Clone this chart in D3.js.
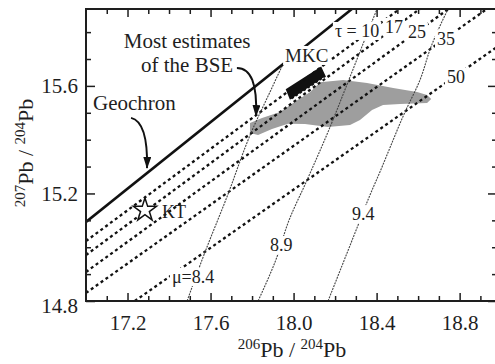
<!DOCTYPE html>
<html>
<head>
<meta charset="utf-8">
<script src="https://cdn.jsdelivr.net/npm/d3@7"></script>
<style>
    body { margin: 0; background: #fff; }
    svg { display: block; }
    svg text { font-family: "Liberation Serif", "DejaVu Serif", serif; }
</style>
</head>
<body>
<div id="grafica"></div>
<script>
// Valores (206Pb/204Pb, 207Pb/204Pb)
const ticksX = [17.2, 17.6, 18.0, 18.4, 18.8];
const ticksY = [14.8, 15.2, 15.6];
const ticksMenoresX = [17.1, 17.3, 17.4, 17.5, 17.7, 17.8, 17.9, 18.1, 18.2, 18.3, 18.5, 18.6, 18.7, 18.9];
const ticksMenoresY = [14.9, 15.0, 15.1, 15.3, 15.4, 15.5, 15.7, 15.8];

const geocrona = [[17.0, 15.094], [18.281, 15.886]];

const etiquetasTau = ["τ = 10", "17", "25", "35", "50"];
const lineasTau = [
    [[17.0, 15.023], [18.511, 15.886]],
    [[17.0, 14.971], [18.608, 15.886]],
    [[17.0, 14.908], [18.746, 15.886]],
    [[17.0, 14.830], [18.931, 15.886]],
    [[17.235, 14.800], [18.98, 15.745]]
];

const etiquetasMu = ["μ=8.4", "8.9", "9.4"];
const lineasMu = [
    [[17.487, 14.800], [17.568, 14.971], [17.679, 15.187], [17.795, 15.425], [17.891, 15.585], [17.949, 15.681]],
    [[17.829, 14.800], [17.920, 14.964], [17.973, 15.090], [18.065, 15.250], [18.166, 15.429], [18.262, 15.614], [18.329, 15.745], [18.402, 15.886]],
    [[18.166, 14.800], [18.305, 15.071], [18.368, 15.194], [18.416, 15.280], [18.537, 15.503], [18.609, 15.622], [18.662, 15.745], [18.744, 15.886]]
];

// Campo gris: la mayoria de estimaciones del BSE
const campoBSE = [
    [17.790, 15.462], [17.848, 15.481], [17.935, 15.503], [18.012, 15.544], [18.080, 15.577],
    [18.128, 15.614], [18.239, 15.622], [18.354, 15.611], [18.480, 15.592], [18.595, 15.577],
    [18.643, 15.566], [18.663, 15.551], [18.643, 15.536], [18.513, 15.533], [18.431, 15.529],
    [18.378, 15.510], [18.320, 15.473], [18.272, 15.455], [18.166, 15.447], [18.055, 15.458],
    [17.973, 15.459], [17.896, 15.440], [17.829, 15.417], [17.790, 15.425]
];
const campoMKC = [[17.962, 15.588], [18.133, 15.672], [18.156, 15.634], [17.984, 15.546]];
const puntoKT = [17.284, 15.138];

// Anclas de las anotaciones (en unidades de datos)
const anclasTau = [[18.199, 15.782], [18.440, 15.797], [18.551, 15.778], [18.691, 15.752], [18.739, 15.611]];
const anclasMu = [[17.414, 14.867], [17.886, 14.986], [18.281, 15.101]];
const flechaGeocrona = [[17.217, 15.481], [17.299, 15.466], [17.294, 15.295]];
const flechaBSE = [[17.727, 15.667], [17.829, 15.667], [17.819, 15.488]];

const ancho = 495, alto = 364;
const izq = 86, der = 497, arriba = 9, abajo = 301;
const tinta = "#1e1e1e";

const sx = d3.scaleLinear().domain([17.0, 18.98]).range([izq, der]);
const sy = d3.scaleLinear().domain([14.8, 15.886]).range([abajo, arriba]);
const linea = d3.line().x(d => sx(d[0])).y(d => sy(d[1]));

const $svg = d3.select("#grafica")
    .append("svg")
    .attr("width", ancho)
    .attr("height", alto)
    .attr("fill", tinta);

const defs = $svg.append("defs");
defs.append("clipPath").attr("id", "recorte")
    .append("rect")
    .attr("x", izq).attr("y", arriba)
    .attr("width", der - izq).attr("height", abajo - arriba);
defs.append("marker")
    .attr("id", "punta")
    .attr("viewBox", "0 0 12 8")
    .attr("refX", 11).attr("refY", 4)
    .attr("markerWidth", 12).attr("markerHeight", 8)
    .attr("markerUnits", "userSpaceOnUse")
    .attr("orient", "auto")
    .append("path")
    .attr("d", "M0,0L12,4L0,8z")
    .attr("fill", "#111");

const zona = $svg.append("g").attr("clip-path", "url(#recorte)");

zona.append("path")
    .attr("d", linea(campoBSE) + "Z")
    .attr("fill", "#9e9e9e");

zona.append("path")
    .attr("d", linea(campoMKC) + "Z")
    .attr("fill", "#111");
// borde dentado del MKC
zona.append("path")
    .attr("d", linea([campoMKC[3], campoMKC[2]]))
    .attr("stroke", "#fff")
    .attr("stroke-width", 1.6)
    .attr("stroke-dasharray", "2 2.8")
    .attr("fill", "none");

zona.selectAll(".tau")
    .data(lineasTau)
    .join("path")
    .attr("class", "tau")
    .attr("d", linea)
    .attr("fill", "none")
    .attr("stroke", "#111")
    .attr("stroke-width", 2.3)
    .attr("stroke-dasharray", "3 3");

zona.selectAll(".mu")
    .data(lineasMu)
    .join("path")
    .attr("class", "mu")
    .attr("d", d3.line().curve(d3.curveMonotoneY).x(d => sx(d[0])).y(d => sy(d[1])))
    .attr("fill", "none")
    .attr("stroke", "#444")
    .attr("stroke-width", 1.1)
    .attr("stroke-dasharray", "2 1");

zona.append("path")
    .attr("d", linea(geocrona))
    .attr("fill", "none")
    .attr("stroke", "#111")
    .attr("stroke-width", 2.6);

zona.append("path")
    .attr("transform", `translate(${sx(puntoKT[0])},${sy(puntoKT[1])})`)
    .attr("d", d3.symbol(d3.symbolStar, 165)())
    .attr("fill", "#fff")
    .attr("stroke", "#111")
    .attr("stroke-width", 1.5);

const curva = p => `M${sx(p[0][0])},${sy(p[0][1])}Q${sx(p[1][0])},${sy(p[1][1])} ${sx(p[2][0])},${sy(p[2][1])}`;
[flechaGeocrona, flechaBSE].forEach(p => {
    $svg.append("path")
        .attr("d", curva(p))
        .attr("fill", "none")
        .attr("stroke", "#111")
        .attr("stroke-width", 2)
        .attr("marker-end", "url(#punta)");
});

const capaEtiquetas = $svg.append("g");
const etiqueta = (texto, punto, tam, anchor = "start", fondo = false) => {
    const t = capaEtiquetas.append("text")
        .attr("x", sx(punto[0]))
        .attr("y", sy(punto[1]))
        .attr("text-anchor", anchor)
        .attr("font-size", tam)
        .text(texto);
    if (fondo) {
        const b = t.node().getBBox();
        capaEtiquetas.insert("rect", () => t.node())
            .attr("x", b.x - 2).attr("y", b.y + 1)
            .attr("width", b.width + 4).attr("height", b.height - 2)
            .attr("fill", "#fff");
    }
    return t;
};

etiqueta("Geochron", [17.034, 15.510], 21);
etiqueta("Most estimates", [17.487, 15.741], 21, "middle");
etiqueta("of the BSE", [17.487, 15.652], 21, "middle");
etiqueta("MKC", [17.959, 15.689], 19, "start", true);
etiqueta("KT", [17.366, 15.109], 18);
etiquetasTau.forEach((t, i) => etiqueta(t, anclasTau[i], 18, "start", true));
etiquetasMu.forEach((t, i) => etiqueta(t, anclasMu[i], 18, "start", true));

// Marco y ejes (ticks hacia dentro)
const eje = (ax, transform) => $svg.append("g")
    .attr("transform", transform)
    .call(ax)
    .call(g => g.select(".domain").remove())
    .call(g => g.selectAll("line").attr("stroke", tinta).attr("stroke-width", 1.5))
    .call(g => g.selectAll("text").attr("fill", tinta))
    .attr("font-size", 21);

const formato = d3.format(".1f");
eje(d3.axisBottom(sx).tickValues(ticksX).tickSize(-8).tickPadding(14).tickFormat(formato), `translate(0,${abajo})`);
eje(d3.axisBottom(sx).tickValues(ticksMenoresX).tickSize(-5).tickFormat(""), `translate(0,${abajo})`);
eje(d3.axisTop(sx).tickValues(ticksX).tickSize(-8).tickFormat(""), `translate(0,${arriba})`);
eje(d3.axisTop(sx).tickValues(ticksMenoresX).tickSize(-5).tickFormat(""), `translate(0,${arriba})`);
const ejeIzq = eje(d3.axisLeft(sy).tickValues(ticksY).tickSize(-9).tickPadding(8).tickFormat(formato), `translate(${izq},0)`);
eje(d3.axisLeft(sy).tickValues(ticksMenoresY).tickSize(-5).tickFormat(""), `translate(${izq},0)`);
eje(d3.axisRight(sy).tickValues(ticksY).tickSize(-9).tickFormat(""), `translate(${der},0)`);
eje(d3.axisRight(sy).tickValues(ticksMenoresY).tickSize(-5).tickFormat(""), `translate(${der},0)`);
ejeIzq.selectAll(".tick text").filter(d => d === 14.8).attr("dy", "0.56em");

$svg.append("rect")
    .attr("x", izq).attr("y", arriba)
    .attr("width", der - izq).attr("height", abajo - arriba)
    .attr("fill", "none")
    .attr("stroke", tinta)
    .attr("stroke-width", 2);

// Titulos de los ejes con superindices
const titulo = (g, a, b) => {
    const t = g.append("text").attr("text-anchor", "middle").attr("font-size", 22);
    t.append("tspan").attr("font-size", 15).attr("dy", -8).text(a);
    t.append("tspan").attr("dy", 8).text("Pb / ");
    t.append("tspan").attr("font-size", 15).attr("dy", -8).text(b);
    t.append("tspan").attr("dy", 8).text("Pb");
};
titulo($svg.append("g").attr("transform", "translate(292,357)"), "206", "204");
titulo($svg.append("g").attr("transform", "translate(33,153) rotate(-90)"), "207", "204");
</script>
</body>
</html>
